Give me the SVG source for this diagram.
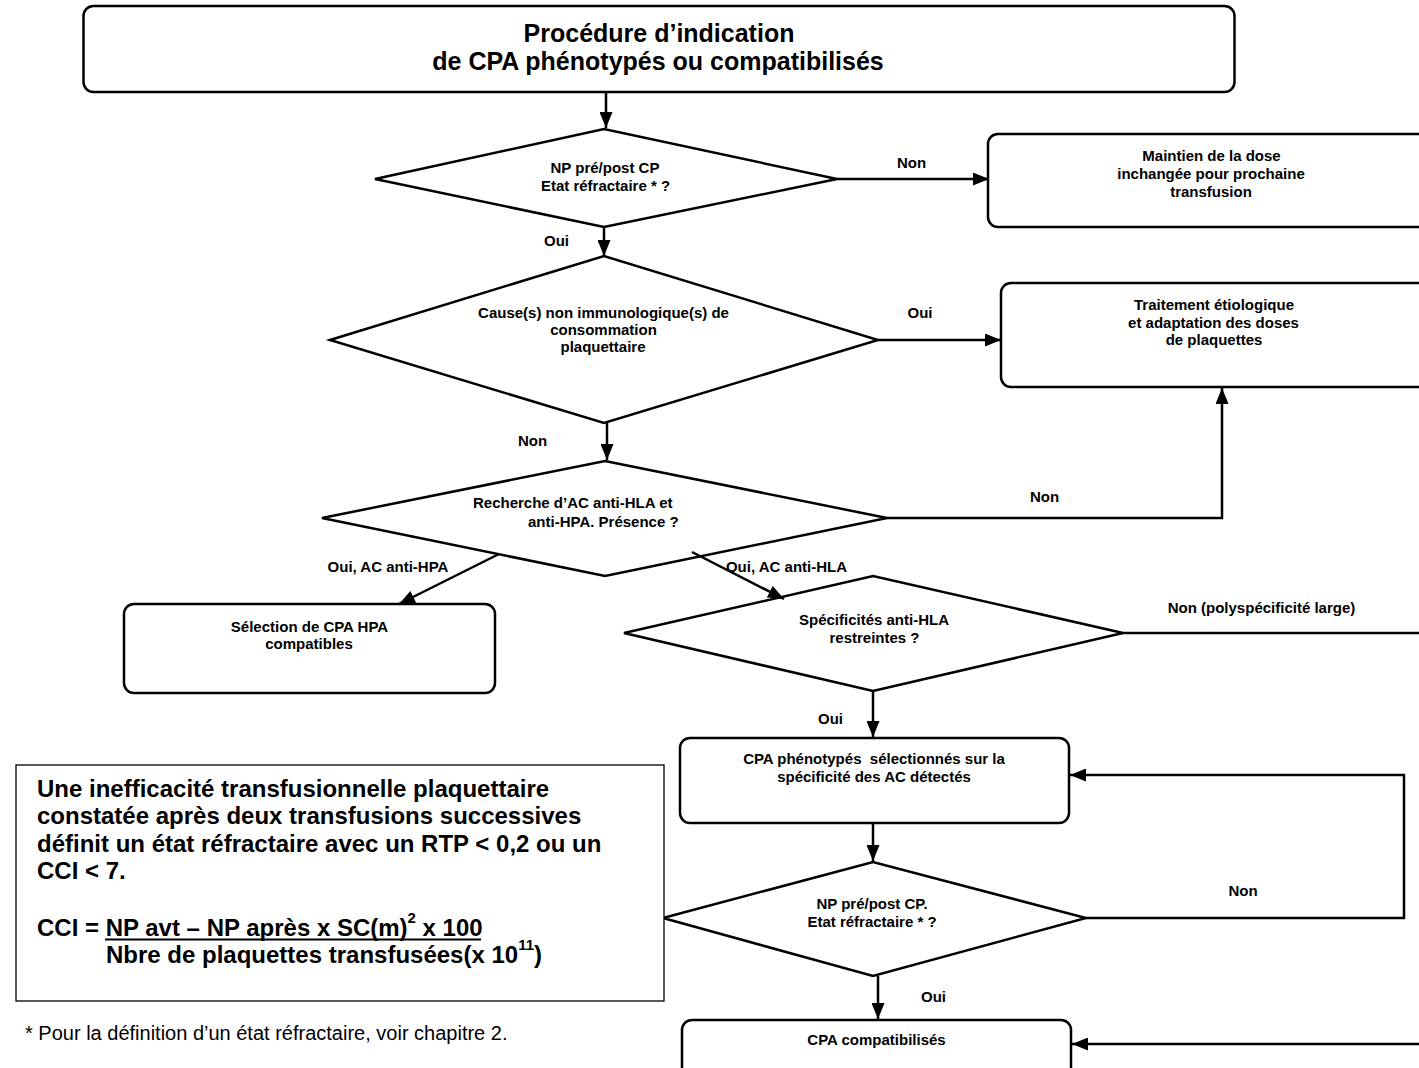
<svg xmlns="http://www.w3.org/2000/svg" width="1419" height="1068" viewBox="0 0 1419 1068">
<defs>
<style>
.box{fill:#fff;stroke:#000;stroke-width:2.5}
.dia{fill:#fff;stroke:#000;stroke-width:2.5;stroke-linejoin:miter}
.note{fill:#fff;stroke:#000;stroke-width:1.3}
.con{fill:none;stroke:#000;stroke-width:2.5}
.t{font-family:"Liberation Sans",Arial,sans-serif;font-weight:bold;font-size:15px;fill:#000}
.c{text-anchor:middle}
.title{font-family:"Liberation Sans",Arial,sans-serif;font-weight:bold;font-size:25px;fill:#000;text-anchor:middle}
.nt{font-family:"Liberation Sans",Arial,sans-serif;font-weight:bold;font-size:24px;fill:#000}
.ft{font-family:"Liberation Sans",Arial,sans-serif;font-size:20px;fill:#000}
</style>
<marker id="ah" viewBox="0 0 16 13" refX="16" refY="6.5" markerWidth="16" markerHeight="13" orient="auto" markerUnits="userSpaceOnUse"><path d="M0,0 L16,6.5 L0,13 z" fill="#000"/></marker>
</defs>
<rect width="1419" height="1068" fill="#fff"/>

<g id="title">
<rect class="box" x="83.5" y="6" width="1151" height="86" rx="10"/>
<text class="title" x="659" y="42">Procédure d’indication</text>
<text class="title" x="658" y="70">de CPA phénotypés ou compatibilisés</text>
</g>

<g id="d1">
<polygon class="dia" points="375,179 604,129 837,179 604,227"/>
<text class="t c" x="605" y="173">NP pré/post CP</text>
<text class="t c" x="605.5" y="191">Etat réfractaire * ?</text>
</g>

<g id="maintien">
<rect class="box" x="988" y="134" width="460" height="93" rx="10"/>
<text class="t c" x="1211.5" y="161">Maintien de la dose</text>
<text class="t c" x="1211" y="179">inchangée pour prochaine</text>
<text class="t c" x="1211" y="197">transfusion</text>
</g>

<g id="d2">
<polygon class="dia" points="330,340 604,256 878,340 604,423"/>
<text class="t c" x="603.5" y="318">Cause(s) non immunologique(s) de</text>
<text class="t c" x="603.5" y="335">consommation</text>
<text class="t c" x="603" y="352">plaquettaire</text>
</g>

<g id="traitement">
<rect class="box" x="1001" y="283" width="460" height="104" rx="10"/>
<text class="t c" x="1214" y="310">Traitement étiologique</text>
<text class="t c" x="1213.5" y="328">et adaptation des doses</text>
<text class="t c" x="1214" y="345">de plaquettes</text>
</g>

<g id="d3">
<polygon class="dia" points="322,518 605,461 887,518 605,576"/>
<text class="t" x="473" y="508">Recherche d’AC anti-HLA et</text>
<text class="t" x="528" y="527">anti-HPA. Présence ?</text>
</g>

<g id="selection">
<rect class="box" x="124" y="604" width="371" height="89" rx="10"/>
<text class="t c" x="309.5" y="632">Sélection de CPA HPA</text>
<text class="t c" x="309" y="649">compatibles</text>
</g>

<g id="d4">
<polygon class="dia" points="624,633 873,576 1123,633 873,691"/>
<text class="t c" x="874" y="625">Spécificités anti-HLA</text>
<text class="t c" x="874.5" y="643">restreintes ?</text>
</g>

<g id="phenotypes">
<rect class="box" x="680" y="738" width="389" height="85" rx="10"/>
<text class="t c" x="874" y="764" xml:space="preserve">CPA phénotypés  sélectionnés sur la</text>
<text class="t c" x="874" y="782">spécificité des AC détectés</text>
</g>

<g id="d5">
<polygon class="dia" points="663,918 873,862 1086,918 873,976"/>
<text class="t c" x="872" y="909">NP pré/post CP.</text>
<text class="t c" x="872" y="927">Etat réfractaire * ?</text>
</g>

<g id="compatibilises">
<rect class="box" x="682" y="1020" width="389" height="80" rx="10"/>
<text class="t c" x="876.5" y="1045">CPA compatibilisés</text>
</g>

<g id="connectors">
<path class="con" d="M606,92 V128" stroke-width="3.5" marker-end="url(#ah)"/>
<path class="con" d="M837,179 H989" marker-end="url(#ah)"/>
<path class="con" d="M604,227 V256" marker-end="url(#ah)"/>
<path class="con" d="M878,340 H1001" marker-end="url(#ah)"/>
<path class="con" d="M607,423 V460" marker-end="url(#ah)"/>
<path class="con" d="M887,518 H1222 V388" marker-end="url(#ah)"/>
<path class="con" d="M499,554 L399,604" marker-end="url(#ah)"/>
<path class="con" d="M692,552 L784,599" marker-end="url(#ah)"/>
<path class="con" d="M1123,633 H1419"/>
<path class="con" d="M873,691 V737" marker-end="url(#ah)"/>
<path class="con" d="M873,823 V861" marker-end="url(#ah)"/>
<path class="con" d="M1086,918 H1404 V775 H1070" marker-end="url(#ah)"/>
<path class="con" d="M878,976 V1019" marker-end="url(#ah)"/>
<path class="con" d="M1419,1044 H1072" marker-end="url(#ah)"/>
<text class="t c" x="911.5" y="168">Non</text>
<text class="t c" x="556.5" y="246">Oui</text>
<text class="t c" x="920" y="318">Oui</text>
<text class="t c" x="532.5" y="446">Non</text>
<text class="t c" x="1044.5" y="502">Non</text>
<text class="t c" x="388" y="572">Oui, AC anti-HPA</text>
<text class="t c" x="786.5" y="572">Oui, AC anti-HLA</text>
<text class="t c" x="1261.5" y="613">Non (polyspécificité large)</text>
<text class="t c" x="830.5" y="724">Oui</text>
<text class="t c" x="1243" y="896">Non</text>
<text class="t c" x="933.5" y="1002">Oui</text>
</g>

<g id="note">
<rect class="note" x="16" y="765" width="648" height="236"/>
<text class="nt" x="37" y="797">Une inefficacité transfusionnelle plaquettaire</text>
<text class="nt" x="37" y="824">constatée après deux transfusions successives</text>
<text class="nt" x="37" y="852">définit un état réfractaire avec un RTP &lt; 0,2 ou un</text>
<text class="nt" x="37" y="879">CCI &lt; 7.</text>
<text class="nt" x="37" y="936">CCI = NP avt – NP après x SC(m)<tspan font-size="15" dy="-13">2</tspan><tspan dy="13"> x 100</tspan></text>
<line x1="105" y1="939.5" x2="481" y2="939.5" stroke="#000" stroke-width="2"/>
<text class="nt" x="106" y="963">Nbre de plaquettes transfusées(x 10<tspan font-size="15" dy="-13">11</tspan><tspan dy="13">)</tspan></text>
</g>

<text class="ft" x="25" y="1040">* Pour la définition d’un état réfractaire, voir chapitre 2.</text>
</svg>
